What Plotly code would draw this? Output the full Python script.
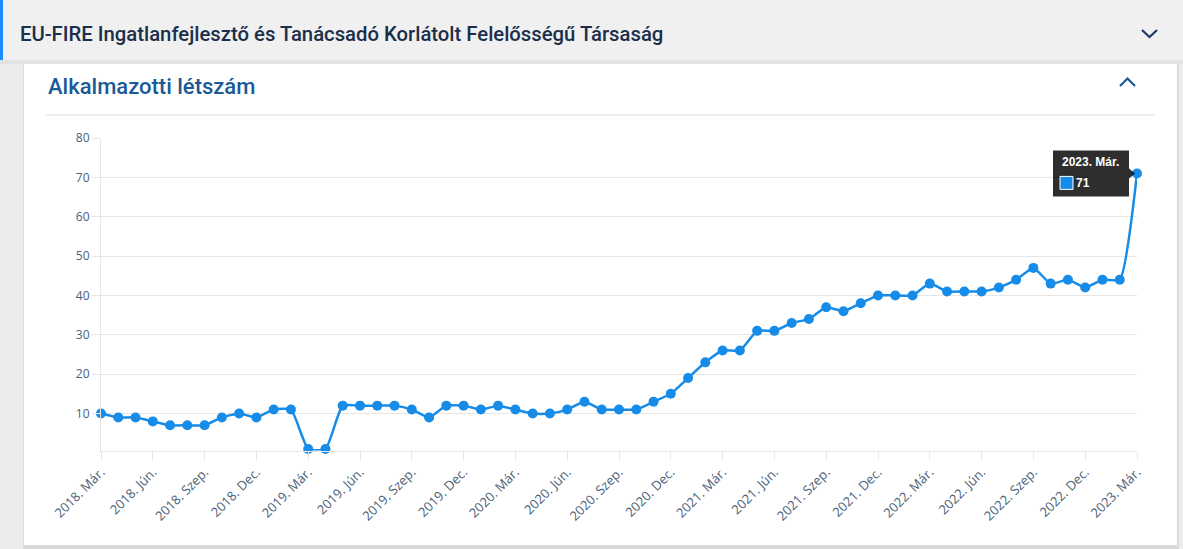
import plotly.graph_objects as go

W, H = 1183, 549

# --- data ---
months = [
    "2018. Már.", "2018. Ápr.", "2018. Máj.", "2018. Jún.", "2018. Júl.", "2018. Aug.",
    "2018. Szep.", "2018. Okt.", "2018. Nov.", "2018. Dec.",
    "2019. Jan.", "2019. Feb.", "2019. Már.", "2019. Ápr.", "2019. Máj.", "2019. Jún.",
    "2019. Júl.", "2019. Aug.", "2019. Szep.", "2019. Okt.", "2019. Nov.", "2019. Dec.",
    "2020. Jan.", "2020. Feb.", "2020. Már.", "2020. Ápr.", "2020. Máj.", "2020. Jún.",
    "2020. Júl.", "2020. Aug.", "2020. Szep.", "2020. Okt.", "2020. Nov.", "2020. Dec.",
    "2021. Jan.", "2021. Feb.", "2021. Már.", "2021. Ápr.", "2021. Máj.", "2021. Jún.",
    "2021. Júl.", "2021. Aug.", "2021. Szep.", "2021. Okt.", "2021. Nov.", "2021. Dec.",
    "2022. Jan.", "2022. Feb.", "2022. Már.", "2022. Ápr.", "2022. Máj.", "2022. Jún.",
    "2022. Júl.", "2022. Aug.", "2022. Szep.", "2022. Okt.", "2022. Nov.", "2022. Dec.",
    "2023. Jan.", "2023. Feb.", "2023. Már.",
]
headcount = [
    10, 9, 9, 8, 7, 7, 7, 9, 10, 9,
    11, 11, 1, 1, 12, 12, 12, 12, 11, 9, 12, 12,
    11, 12, 11, 10, 10, 11, 13, 11, 11, 11, 13, 15,
    19, 23, 26, 26, 31, 31, 33, 34, 37, 36, 38, 40,
    40, 40, 43, 41, 41, 41, 42, 44, 47, 43, 44, 42,
    44, 44, 71,
]
tick_labels = months[::3]
y_ticks = [10, 20, 30, 40, 50, 60, 70, 80]

company = "EU-FIRE Ingatlanfejlesztő és Tanácsadó Korlátolt Felelősségű Társaság"
card_title = "Alkalmazotti létszám"

LINE_BLUE = "#168ce8"
TICK_COLOR = "#4b6078"
GRID = "#e6e6e6"
TIP_BG = "rgba(0,0,0,0.82)"


def px(x, y):
    # page pixel -> paper coords
    return x / W, 1 - y / H


def rect(x0, y0, x1, y1, **kw):
    a, b = px(x0, y1)
    c, d = px(x1, y0)
    return dict(type="rect", xref="paper", yref="paper", x0=a, y0=b, x1=c, y1=d, layer="below", **kw)


def chevron(points, color):
    path = "M " + " L ".join("%f %f" % px(x, y) for x, y in points)
    return dict(type="path", xref="paper", yref="paper", path=path,
                line=dict(color=color, width=2.2), layer="above")


fig = go.Figure()
fig.add_trace(go.Scatter(
    x=months,
    y=headcount,
    mode="lines+markers",
    line=dict(color=LINE_BLUE, width=2.5, shape="spline", smoothing=0.5),
    marker=dict(color=LINE_BLUE, size=10),
    cliponaxis=False,
    hoverinfo="skip",
    showlegend=False,
))

# tooltip pieces are placed in pixels relative to the last point
last_x, last_y = len(months) - 1, headcount[-1]


def tip_shape(**kw):
    return dict(xref="x", yref="y", xsizemode="pixel", ysizemode="pixel",
                xanchor=last_x, yanchor=last_y, layer="above", **kw)


shapes = [
    # card shadow + card
    rect(23, 62, 1179, 549, fillcolor="#d9d9d9", line=dict(width=0)),
    rect(24, 60, 1177, 545, fillcolor="white", line=dict(width=0)),
    # header bar + shadow
    rect(0, 60, 1183, 64, fillcolor="#e2e2e2", line=dict(width=0)),
    rect(0, 0, 1183, 60, fillcolor="#f0f0f0", line=dict(width=0)),
    rect(0, 0, 3, 60, fillcolor="#1a8cff", line=dict(width=0)),
    # divider under card title
    dict(type="line", xref="paper", yref="paper",
         x0=px(46, 115)[0], y0=px(46, 115)[1], x1=px(1155, 115)[0], y1=px(1155, 115)[1],
         line=dict(color="#dedede", width=1), layer="below"),
    chevron([(1142, 30), (1149.5, 37), (1157, 30)], "#1b3a5c"),
    chevron([(1120, 86), (1127.5, 78.5), (1135, 86)], "#1a5a96"),
    # tooltip box, caret and colour square
    tip_shape(type="rect", x0=-84, x1=-8, y0=-23, y1=23, fillcolor=TIP_BG, line=dict(width=0)),
    tip_shape(type="path", path="M -8 -5 L -2 0 L -8 5 Z", fillcolor=TIP_BG, line=dict(width=0)),
    tip_shape(type="rect", x0=-77, x1=-64, y0=-16, y1=-3, fillcolor=LINE_BLUE,
              line=dict(color="white", width=1)),
]

annotations = [
    dict(text=company, xref="paper", yref="paper", x=px(18, 34)[0], y=px(18, 34)[1],
         xanchor="left", yanchor="middle", showarrow=False,
         font=dict(family="Roboto", size=20.3, color="#1b2f4a", weight=500)),
    dict(text=card_title, xref="paper", yref="paper", x=px(46, 86)[0], y=px(46, 86)[1],
         xanchor="left", yanchor="middle", showarrow=False,
         font=dict(family="Roboto", size=22, color="#1a5a96", weight=500)),
    dict(text="<b>%s</b>" % months[-1], x=last_x, y=last_y, xref="x", yref="y",
         xanchor="left", yanchor="middle", xshift=-77, yshift=11, showarrow=False,
         font=dict(family="Arial", size=12, color="white")),
    dict(text="<b>%d</b>" % headcount[-1], x=last_x, y=last_y, xref="x", yref="y",
         xanchor="left", yanchor="middle", xshift=-63, yshift=-10, showarrow=False,
         font=dict(family="Arial", size=12, color="white")),
]

fig.update_layout(
    width=W, height=H,
    margin=dict(l=0, r=0, t=0, b=0, autoexpand=False),
    paper_bgcolor="#ececec",
    plot_bgcolor="rgba(0,0,0,0)",
    shapes=shapes,
    annotations=annotations,
    font=dict(family="Open Sans", size=12, color=TICK_COLOR),
    xaxis=dict(
        domain=[101 / W, 1137 / W],
        type="category",
        range=[0, len(months) - 1],
        tickmode="array",
        tickvals=tick_labels,
        ticktext=tick_labels,
        tickangle=-45,
        ticks="outside", ticklen=8, tickcolor=GRID,
        showgrid=False,
        showline=True, linecolor=GRID, linewidth=1,
        zeroline=False,
        automargin=False,
        tickfont=dict(family="Open Sans", size=13, color=TICK_COLOR),
        fixedrange=True,
    ),
    yaxis=dict(
        domain=[1 - 450.5 / H, 1 - 138 / H],
        range=[0.6, 80],
        tickmode="array",
        tickvals=y_ticks,
        ticks="outside", ticklen=8, tickcolor=GRID,
        showgrid=True, gridcolor=GRID, gridwidth=1,
        showline=True, linecolor=GRID, linewidth=1,
        zeroline=False,
        automargin=False,
        tickfont=dict(family="Open Sans", size=12, color=TICK_COLOR),
        fixedrange=True,
    ),
)

fig.write_html("out.html", config={"displayModeBar": False},
               post_script="document.body.style.margin='0';document.body.style.overflow='hidden';")
